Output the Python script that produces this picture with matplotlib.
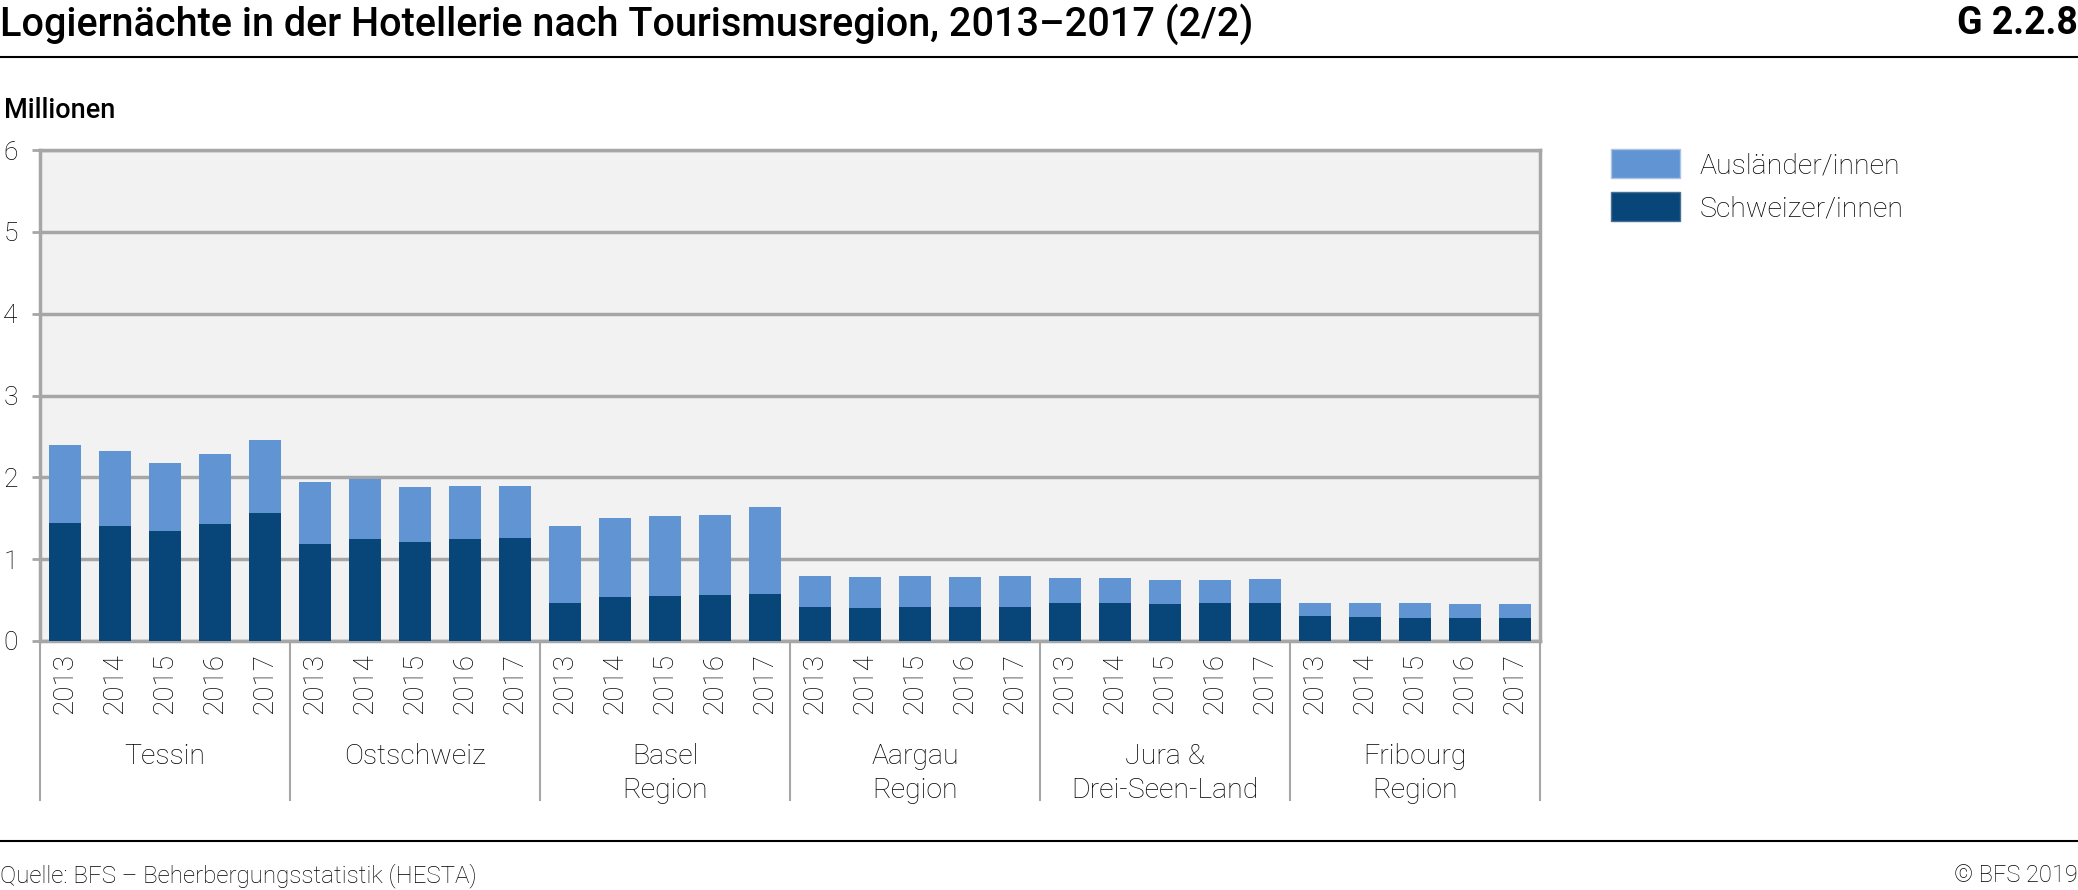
import matplotlib.pyplot as plt
import numpy as np
from matplotlib.patches import Patch
from matplotlib.lines import Line2D

plt.rcParams['font.family'] = ['Roboto', 'DejaVu Sans']

# Data (millions of overnight stays)
regions = ['Tessin', 'Ostschweiz', 'Basel\nRegion', 'Aargau\nRegion',
           'Jura &\nDrei-Seen-Land', 'Fribourg\nRegion']
years = ['2013', '2014', '2015', '2016', '2017']
totals = [
    [2.40, 2.32, 2.18, 2.28, 2.46],
    [1.94, 1.98, 1.88, 1.90, 1.90],
    [1.41, 1.50, 1.53, 1.54, 1.64],
    [0.80, 0.78, 0.79, 0.78, 0.79],
    [0.77, 0.77, 0.75, 0.75, 0.76],
    [0.47, 0.47, 0.46, 0.45, 0.45],
]
swiss = [
    [1.44, 1.40, 1.35, 1.43, 1.57],
    [1.19, 1.25, 1.21, 1.25, 1.26],
    [0.47, 0.54, 0.55, 0.56, 0.58],
    [0.41, 0.40, 0.41, 0.42, 0.42],
    [0.46, 0.46, 0.45, 0.47, 0.46],
    [0.30, 0.29, 0.28, 0.28, 0.28],
]

swiss_flat = np.array(swiss).ravel()
foreign_flat = np.array(totals).ravel() - swiss_flat
labels = years * len(regions)
x = np.arange(len(labels))

c_light = '#6194d3'
c_dark = '#08467a'
c_grid = '#a6a6a6'

fig = plt.figure(figsize=(20.78, 8.9), dpi=100)
ax = fig.add_axes([40 / 2078, 1 - 641 / 890, 1500 / 2078, 491 / 890])
ax.set_facecolor('#f2f2f2')

ax.bar(x, swiss_flat, 0.65, color=c_dark, zorder=3)
ax.bar(x, foreign_flat, 0.65, bottom=swiss_flat, color=c_light, zorder=3)

ax.set_xlim(-0.5, len(labels) - 0.5)
ax.set_ylim(0, 6)
ax.set_yticks(range(7))
ax.yaxis.grid(True, color=c_grid, linewidth=2.5, zorder=1)
ax.tick_params(axis='y', length=6, width=2, color=c_grid, labelsize=19, pad=10)
for t in ax.get_yticklabels():
    t.set_fontweight('light')
ax.set_xticks(x)
ax.set_xticklabels(labels, rotation=90, fontsize=20, fontweight='light')
ax.tick_params(axis='x', length=0, pad=9)
for s in ax.spines.values():
    s.set_color(c_grid)
    s.set_linewidth(2.5)

# group separators and group labels
trans = ax.get_xaxis_transform()
for i in range(len(regions) + 1):
    ax.add_line(Line2D([i * 5 - 0.5] * 2, [0, -0.324], transform=trans,
                       color=c_grid, linewidth=1.5, clip_on=False))
for i, r in enumerate(regions):
    ax.text(i * 5 + 2, -0.208, r, transform=trans, ha='center', va='top',
            fontsize=20.5, fontweight='light', linespacing=1.32)

# legend
handles = [Patch(facecolor=c_light, edgecolor='#a9c3e6', label='Ausländer/innen'),
           Patch(facecolor=c_dark, edgecolor='#4a6f94', label='Schweizer/innen')]
fig.legend(handles=handles, loc='upper left', bbox_to_anchor=(1611 / 2078, 1 - 149 / 890),
           frameon=False, borderpad=0, borderaxespad=0, handlelength=2.42,
           handleheight=1.2, handletextpad=0.7, labelspacing=0.45,
           prop={'weight': 'light', 'size': 20.5})

# header and footer
fig.text(0.0, 1 - 24 / 890, 'Logiernächte in der Hotellerie nach Tourismusregion, 2013–2017 (2/2)',
         fontsize=28.5, fontweight='medium', va='center', ha='left')
fig.text(1.0, 1 - 24 / 890, 'G 2.2.8', fontsize=27, fontweight='bold', va='center', ha='right')
fig.text(0.002, 1 - 110 / 890, 'Millionen', fontsize=19.5, fontweight='medium', va='center')
fig.add_artist(Line2D([0, 1], [1 - 57 / 890] * 2, color='black', linewidth=1.5))
fig.add_artist(Line2D([0, 1], [1 - 841 / 890] * 2, color='black', linewidth=1.5))
fig.text(0.0, 1 - 876 / 890, 'Quelle: BFS – Beherbergungsstatistik (HESTA)',
         fontsize=17.4, fontweight='light', va='center')
fig.text(1.0, 1 - 876 / 890, '© BFS 2019', fontsize=17, fontweight='light',
         va='center', ha='right')

fig.savefig('out.png', dpi=100)
